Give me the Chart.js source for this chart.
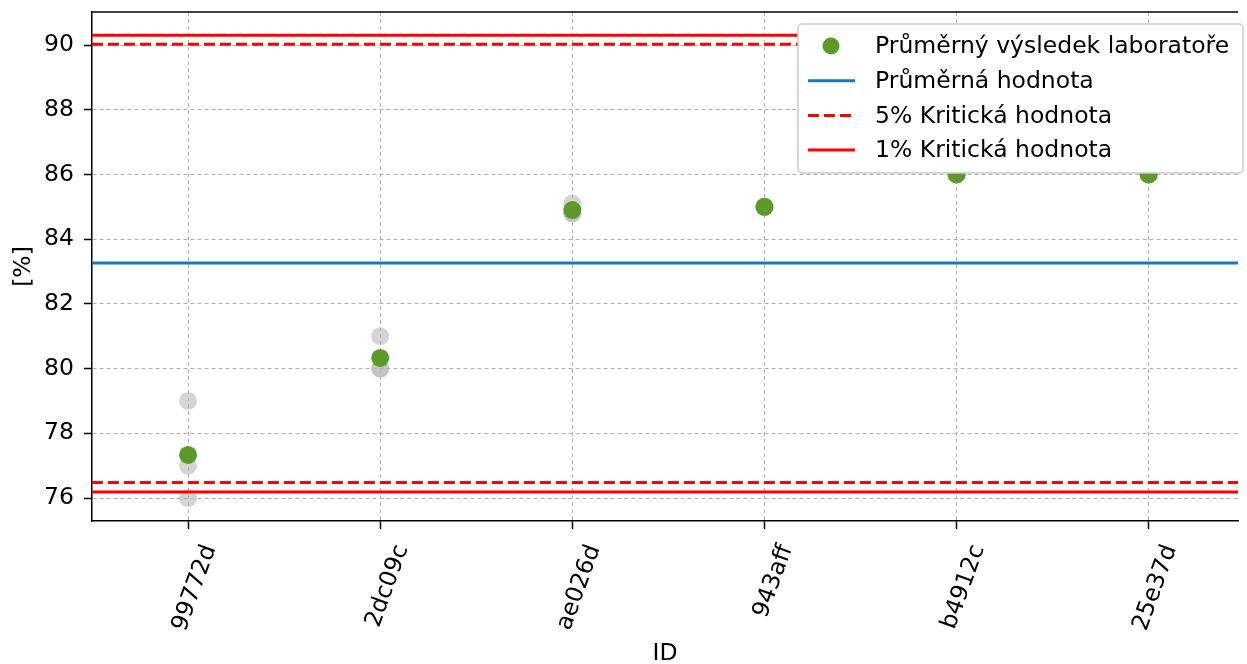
<!DOCTYPE html>
<html>
<head>
<meta charset="utf-8">
<script src="https://cdn.jsdelivr.net/npm/chart.js@4.4.1/dist/chart.umd.min.js"></script>
<style>
  html, body { margin: 0; padding: 0; background: #fff; }
  #wrap { width: 1247px; height: 664px; }
</style>
</head>
<body>
<div id="wrap"><canvas id="chart" width="1247" height="664"></canvas></div>
<script>
// ----------------------- Data ----------------------------------
const labIds = ['99772d', '2dc09c', 'ae026d', '943aff', 'b4912c', '25e37d'];
// individual lab results (three per lab)
const rep1 = [79, 81, 85.1, 85, 86, 86];
const rep2 = [77, 80, 84.8, 85, 86, 86];
const rep3 = [76, 80, 84.8, 85, 86, 86];
// lab averages
const labMeans = [77.33, 80.33, 84.9, 85, 86, 86];
// reference lines
const overallMean = 83.26;
const crit5 = [76.48, 90.02];
const crit1 = [76.19, 90.3];
const yTicks = [76, 78, 80, 82, 84, 86, 88, 90];

const xMin = -0.5;
const xMax = 5.465;

const FONT = "'DejaVu Sans', sans-serif";
const FS = 23.5;

// ----------------------- Helpers ----------------------------------
function toPoints(values) {
  return values.map((v, i) => ({ x: i, y: v }));
}

function hLine(y) {
  return [{ x: xMin, y: y }, { x: xMax, y: y }];
}

const grayPts = [];
[rep1, rep2, rep3].forEach(arr => {
  arr.forEach((v, i) => grayPts.push({ x: i, y: v }));
});

// ----------------------- Legend plugin ----------------------------
const legendBox = {
  id: 'legendBox',
  afterDraw(chart) {
    const ctx = chart.ctx;
    const area = chart.chartArea;
    // top spine
    ctx.save();
    ctx.strokeStyle = '#000';
    ctx.lineWidth = 1.5;
    ctx.beginPath();
    ctx.moveTo(area.left, area.top);
    ctx.lineTo(area.right, area.top);
    ctx.stroke();

    const x0 = 798, y0 = 24, w = 445, h = 149;
    ctx.fillStyle = '#ffffff';
    ctx.strokeStyle = '#cccccc';
    ctx.lineWidth = 1.5;
    ctx.beginPath();
    ctx.roundRect(x0, y0, w, h, 4);
    ctx.fill();
    ctx.stroke();

    const items = [
      { text: 'Průměrný výsledek laboratoře', type: 'point', color: '#5b9a2a' },
      { text: 'Průměrná hodnota', type: 'line', color: '#1f77b4', dash: [] },
      { text: '5% Kritická hodnota', type: 'line', color: '#ff0000', dash: [11, 5] },
      { text: '1% Kritická hodnota', type: 'line', color: '#ff0000', dash: [] }
    ];
    ctx.font = FS + 'px ' + FONT;
    ctx.textBaseline = 'middle';
    items.forEach((it, k) => {
      const cy = 46 + k * 34.7;
      if (it.type === 'point') {
        ctx.fillStyle = it.color;
        ctx.beginPath();
        ctx.arc(831, cy, 8.5, 0, Math.PI * 2);
        ctx.fill();
      } else {
        ctx.strokeStyle = it.color;
        ctx.lineWidth = 3;
        ctx.setLineDash(it.dash);
        ctx.beginPath();
        ctx.moveTo(808, cy);
        ctx.lineTo(855, cy);
        ctx.stroke();
        ctx.setLineDash([]);
      }
      ctx.fillStyle = '#000';
      ctx.fillText(it.text, 875, cy + 1);
    });
    ctx.restore();
  }
};

// ----------------------- Chart ----------------------------------
const ctx = document.getElementById('chart').getContext('2d');
new Chart(ctx, {
  type: 'scatter',
  data: {
    datasets: [
      {
        label: 'Výsledky',
        data: grayPts,
        backgroundColor: 'rgba(185,185,185,0.6)',
        borderWidth: 0,
        pointRadius: 9,
        order: 5
      },
      {
        label: '1% Kritická hodnota (dolní)',
        type: 'line',
        data: hLine(crit1[0]),
        borderColor: '#ff0000',
        borderWidth: 3,
        pointRadius: 0,
        order: 3
      },
      {
        label: '1% Kritická hodnota',
        type: 'line',
        data: hLine(crit1[1]),
        borderColor: '#ff0000',
        borderWidth: 3,
        pointRadius: 0,
        order: 3
      },
      {
        label: '5% Kritická hodnota (dolní)',
        type: 'line',
        data: hLine(crit5[0]),
        borderColor: '#ff0000',
        borderDash: [11, 5],
        borderWidth: 3,
        pointRadius: 0,
        order: 3
      },
      {
        label: '5% Kritická hodnota',
        type: 'line',
        data: hLine(crit5[1]),
        borderColor: '#ff0000',
        borderDash: [11, 5],
        borderWidth: 3,
        pointRadius: 0,
        order: 3
      },
      {
        label: 'Průměrná hodnota',
        type: 'line',
        data: hLine(overallMean),
        borderColor: '#1f77b4',
        borderWidth: 3,
        pointRadius: 0,
        order: 2
      },
      {
        label: 'Průměrný výsledek laboratoře',
        data: toPoints(labMeans),
        backgroundColor: '#5b9a2a',
        borderWidth: 0,
        pointRadius: 9,
        order: 1
      }
    ]
  },
  options: {
    responsive: false,
    animation: false,
    layout: { padding: { top: 12, right: 0, bottom: 0, left: 0 } },
    plugins: {
      legend: { display: false },
      tooltip: { enabled: false }
    },
    scales: {
      x: {
        type: 'linear',
        min: xMin,
        max: xMax,
        afterBuildTicks: scale => {
          scale.ticks = labIds.map((c, i) => ({ value: i }));
        },
        afterFit: scale => {
          scale.height = 143;
          scale.paddingLeft = 0;
          scale.paddingRight = 0;
        },
        ticks: {
          callback: v => labIds[v],
          minRotation: 70,
          maxRotation: 70,
          labelOffset: 22,
          color: '#000',
          font: { family: FONT, size: FS },
          padding: 12
        },
        grid: {
          color: '#b0b0b0',
          tickColor: '#000',
          tickLength: 8,
          tickBorderDash: [],
          tickWidth: 1.5
        },
        border: { color: '#000', width: 1.5, dash: [4, 3] },
        title: {
          display: true,
          text: 'ID',
          color: '#000',
          font: { family: FONT, size: FS, lineHeight: 1 },
          padding: { top: 0, bottom: -2 }
        }
      },
      y: {
        min: 75.29,
        max: 91.02,
        afterBuildTicks: scale => {
          scale.ticks = yTicks.map(v => ({ value: v }));
        },
        afterFit: scale => {
          scale.width = 92;
          scale.paddingTop = 0;
          scale.paddingBottom = 0;
        },
        ticks: {
          color: '#000',
          font: { family: FONT, size: FS },
          padding: 10
        },
        grid: {
          color: '#b0b0b0',
          tickColor: '#000',
          tickLength: 8,
          tickBorderDash: [],
          tickWidth: 1.5
        },
        border: { color: '#000', width: 1.5, dash: [4, 3] },
        title: {
          display: true,
          text: '[%]',
          color: '#000',
          font: { family: FONT, size: FS },
          padding: { top: 10, bottom: 0 }
        }
      }
    }
  },
  plugins: [legendBox]
});
</script>
</body>
</html>
